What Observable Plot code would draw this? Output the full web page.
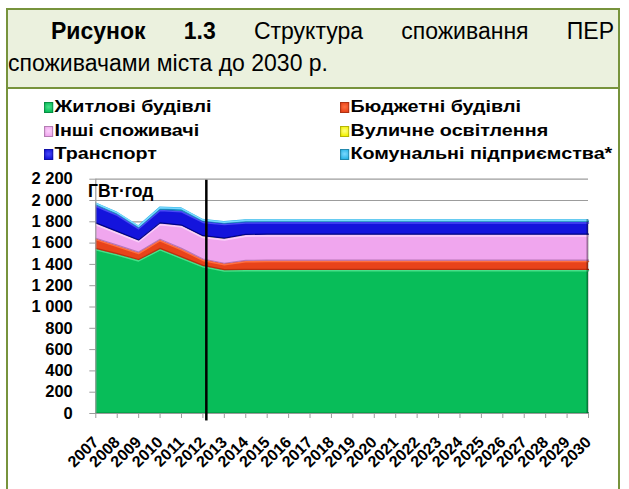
<!DOCTYPE html>
<html><head><meta charset="utf-8">
<script src="https://cdn.jsdelivr.net/npm/d3@7"></script>
<script src="https://cdn.jsdelivr.net/npm/@observablehq/plot@0.6"></script>
<style>
html,body{margin:0;padding:0}
body{width:629px;height:489px;overflow:hidden;background:#fff;position:relative;font-family:"Liberation Sans",Arial,sans-serif;color:#000}
#title{position:absolute;left:6px;top:8px;width:614px;height:81px;box-sizing:border-box;border:2px solid #77933c;background:#ebf1de}
#box{position:absolute;left:6px;top:87px;width:614px;height:420px;box-sizing:border-box;border-left:2px solid #77933c;border-right:2px solid #77933c}
.tl{position:absolute;font-size:23px;line-height:23px;white-space:nowrap}
#l1{left:51px;top:20px;width:563px;text-align:justify;text-align-last:justify;white-space:normal}
#l2{left:8px;top:52px}
.leg{position:absolute;font-size:17px;font-weight:bold;line-height:18px;white-space:nowrap;transform-origin:0 50%;transform:scaleX(1.16)}
.leg i{display:inline-block;width:8px;height:11px;margin-right:1px;vertical-align:-1px;box-shadow:inset 0 0 0 1px rgba(0,0,0,0.25)}
#unit{position:absolute;left:88px;top:183px;font-size:17.5px;font-weight:bold;line-height:17px}
#chart{position:absolute;left:0;top:165px}
</style></head>
<body>
<div id="title"></div>
<div id="box"></div>
<div id="l1" class="tl"><b>Рисунок 1.3</b> Структура споживання ПЕР</div>
<div id="l2" class="tl">споживачами міста до 2030 р.</div>
<div id="legend"></div>
<div id="chart"></div>
<div id="unit">ГВт·год</div>
<script>
const years = [2007,2008,2009,2010,2011,2012,2013,2014,2015,2016,2017,2018,2019,2020,2021,2022,2023,2024,2025,2026,2027,2028,2029,2030];
const seriesNames = ["Житлові будівлі","Бюджетні будівлі","Інші споживачі","Вуличне освітлення","Транспорт","Комунальні підприємства*"];
const residential = [1545,1495,1440,1545,1465,1385,1345,1347,1347,1347,1347,1347,1347,1347,1347,1347,1347,1347,1347,1347,1347,1347,1347,1347];
const budget      = [95,80,70,85,80,60,60,85,88,88,88,88,88,88,88,88,88,88,88,88,88,88,88,88];
const other       = [140,125,110,150,215,215,232,240,240,240,240,240,240,240,240,240,240,240,240,240,240,240,240,240];
const street      = [4,4,4,4,4,4,4,4,4,4,4,4,4,4,4,4,4,4,4,4,4,4,4,4];
const transport   = [170,165,118,130,138,138,140,120,118,118,118,118,118,118,118,118,118,118,118,118,118,118,118,118];
const communal    = [25,22,22,25,30,22,22,23,23,23,23,23,23,23,23,23,23,23,23,23,23,23,23,23];
const yTicks = [0,200,400,600,800,1000,1200,1400,1600,1800,2000,2200];
const dividerYear = 2012.16;

const seriesValues = [residential, budget, other, street, transport, communal];
const fills   = ["#08bd59","#e8431a","#f0a6ee","#f2f200","#1414dc","#2cb5e6"];
const tops    = ["#48e08a","#ff7040","#fad0fa","#ffff80","#4a4af5","#7ad8ff"];
const bottoms = ["#059a45","#b83010","#b876b8","#c0c000","#00008a","#1a86b8"];
const legendRows = [[0,1],[2,3],[4,5]];
const legend = document.getElementById("legend");
legendRows.forEach((row, r) => {
  row.forEach((si, c) => {
    const d = document.createElement("div");
    d.className = "leg";
    d.style.left = (c === 0 ? 44 : 340) + "px";
    d.style.top = (98 + r * 23.5) + "px";
    d.innerHTML = `<i style="background:radial-gradient(circle at 50% 45%, ${tops[si]} 0%, ${fills[si]} 70%)"></i>${seriesNames[si]}`;
    legend.appendChild(d);
  });
});

const lower = [], upper = [];
let acc = years.map(() => 0);
seriesValues.forEach((vals, s) => {
  lower[s] = acc.slice();
  acc = acc.map((a, i) => a + vals[i]);
  upper[s] = acc.slice();
});

const idx = years.map((_, i) => i);
const areaMarks = [], edgeMarks = [];
seriesValues.forEach((vals, s) => {
  areaMarks.push(Plot.areaY(idx, {x: i => years[i], y1: i => lower[s][i], y2: i => upper[s][i], fill: fills[s]}));
  if (s !== 3) {
    edgeMarks.push(Plot.lineY(idx, {x: i => years[i], y: i => lower[s][i], stroke: bottoms[s], strokeWidth: 1.2, dy: -0.6}));
    edgeMarks.push(Plot.lineY(idx, {x: i => years[i], y: i => upper[s][i], stroke: tops[s], strokeWidth: 1.5, dy: 0.8}));
  }
});

const fmt = v => v >= 1000 ? d3.format(",")(v).replace(",", "\u00a0") : String(v);

const chart = Plot.plot({
  width: 629, height: 324,
  marginLeft: 95.3, marginRight: 41, marginTop: 13.7, marginBottom: 76,
  x: {domain: [2007, 2030], axis: null},
  y: {domain: [0, 2200], axis: null},
  style: {fontFamily: "Liberation Sans, Arial, sans-serif", background: "transparent", overflow: "visible", color: "#000"},
  marks: [
    Plot.gridY(yTicks, {stroke: "#9c9c9c", strokeOpacity: 1, strokeWidth: 1.2}),
    ...areaMarks,
    ...edgeMarks,
    Plot.ruleX([2030], {y1: 0, y2: acc[acc.length - 1], stroke: "rgba(0,0,0,0.35)", strokeWidth: 2, dx: -1}),
    Plot.ruleY([0], {stroke: "#9c9c9c", strokeWidth: 1.2}),
    Plot.ruleX([2007], {y1: 0, y2: 2200, stroke: "#9c9c9c", strokeWidth: 1.2}),
    Plot.axisY({ticks: yTicks, tickFormat: fmt, tickSize: 6, tickPadding: 17, fontSize: 16.5, fontWeight: "bold", stroke: "#9c9c9c", fill: "#000"}),
    Plot.axisX({ticks: years, tickFormat: d => String(d), tickSize: 5, tickPadding: 21, tickRotate: -45, fontSize: 16, fontWeight: "bold", stroke: "#9c9c9c", fill: "#000"}),
    Plot.ruleX([dividerYear], {y1: 2190, y2: -70, stroke: "#000", strokeWidth: 2.5})
  ]
});
document.getElementById("chart").appendChild(chart);
</script>
</body></html>
